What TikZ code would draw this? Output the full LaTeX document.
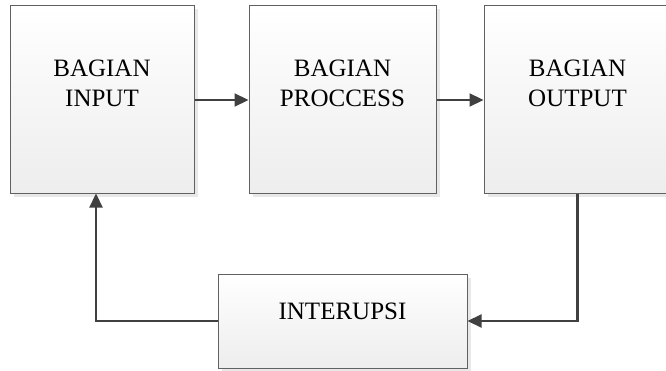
\documentclass[tikz,border=0pt]{standalone}
\usepackage{fontspec}
\setmainfont{Liberation Serif}
\usetikzlibrary{arrows.meta, positioning, calc, shadows}

\begin{document}
\begin{tikzpicture}[x=1pt, y=1pt, >={Triangle[length=14pt, width=13pt]},
	blok/.style={draw=black!62, line width=1pt, top color=white, bottom color=black!7,
		drop shadow={shadow xshift=3.5pt, shadow yshift=-3.5pt, opacity=0.18},
		minimum width=#1, inner sep=0pt},
	teks/.style={align=center, inner sep=0pt, font=\fontsize{25}{30}\selectfont},
	panah/.style={draw=black!75, line width=2.2pt}]
	% ====== canvas ======
	\useasboundingbox (0,0) rectangle (666,370);
	
	% ====== parameter ======
	\def\h{187}   % height of the top boxes
	\def\yt{270.5} % centre line of the top row
	
	% ====== top row ======
	\node[blok=184pt, minimum height=\h pt] (inp) at (102,\yt) {};
	\node[teks] (inpT) at ([yshift=16.5pt]inp.center) {BAGIAN\\INPUT};
	
	\node[blok=187pt, minimum height=\h pt] (pro) at (342.5,\yt) {};
	\node[teks] (proT) at ([yshift=16.5pt]pro.center) {BAGIAN\\PROCCESS};
	
	\node[blok=187pt, minimum height=\h pt] (out) at (577.5,\yt) {};
	\node[teks] (outT) at ([yshift=16.5pt]out.center) {BAGIAN\\OUTPUT};
	
	% ====== feedback box ======
	\node[blok=249pt, minimum height=94pt] (intr) at (342.5,49) {};
	\node[teks] (intrT) at ([yshift=10pt]intr.center) {INTERUPSI};
	
	% ====== connectors ======
	\draw[panah, ->] ([yshift=-0.5pt]inp.east) -- ([yshift=-0.5pt]pro.west);
	\draw[panah, ->] ([yshift=-0.5pt]pro.east) -- ([yshift=-0.5pt]out.west);
	\draw[panah, ->] (out.south) |- (intr.east);
	\draw[panah, ->] (intr.west) -| ([xshift=-6pt]inp.south);
\end{tikzpicture}
\end{document}
